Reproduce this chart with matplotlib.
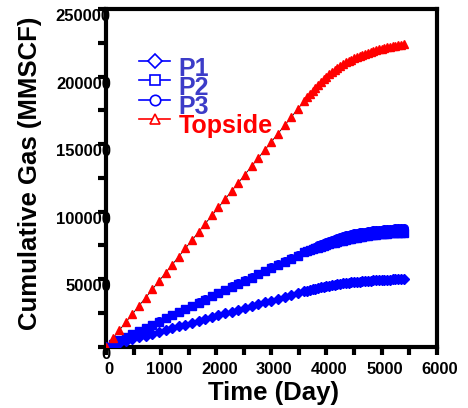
import matplotlib
matplotlib.use('Agg')
import matplotlib.pyplot as plt
import matplotlib.transforms as mtransforms
from matplotlib.ticker import MultipleLocator

plt.rcParams['font.family'] = ['Liberation Sans', 'DejaVu Sans']
plt.rcParams['font.weight'] = 'bold'

# sample times (days)
days = [0, 120, 240, 360, 480, 600, 720, 840, 960, 1080, 1200, 1320, 1440,
        1560, 1680, 1800, 1920, 2040, 2160, 2280, 2400, 2520, 2640, 2760,
        2880, 3000, 3120, 3240, 3360, 3480, 3600,
        3650, 3700, 3750, 3800, 3850, 3900, 3950, 4000, 4050, 4100, 4150,
        4200, 4250, 4300, 4350, 4400, 4450, 4500, 4550, 4600, 4650, 4700,
        4750, 4800, 4850, 4900, 4950, 5000, 5050, 5100, 5150, 5200, 5250,
        5300, 5350, 5400]

p1 = [0, 1370, 2740, 4100, 5470, 6840, 8210, 9580, 10940, 12310, 13680,
      15050, 16420, 17780, 19150, 20520, 21890, 23260, 24620, 25990, 27360,
      28730, 30100, 31460, 32830, 34200, 35570, 36940, 38300, 39670, 41040,
      41600, 42130, 42630, 43110, 43570, 44010, 44430, 44830, 45210, 45570,
      45910, 46230, 46540, 46830, 47100, 47360, 47610, 47840, 48050, 48250,
      48440, 48610, 48780, 48930, 49080, 49210, 49340, 49450, 49560, 49660,
      49750, 49840, 49930, 50010, 50080, 50150]

p2 = [0, 2330, 4660, 6980, 9310, 11640, 13970, 16300, 18620, 20950, 23280,
      25610, 27940, 30260, 32590, 34920, 37250, 39580, 41900, 44230, 46560,
      48890, 51220, 53540, 55870, 58200, 60530, 62860, 65180, 67510, 69840,
      70630, 71390, 72120, 72820, 73490, 74130, 74740, 75320, 75920, 76490,
      77030, 77540, 78020, 78570, 79090, 79580, 80040, 80470, 80870, 81250,
      81600, 81920, 82220, 82500, 82760, 83000, 83220, 83420, 83610, 83780,
      83930, 84080, 84210, 84340, 84450, 84560]

p3 = [0, 2350, 4700, 7040, 9390, 11740, 14090, 16440, 18780, 21130, 23480,
      25830, 28180, 30520, 32870, 35220, 37570, 39920, 42260, 44610, 46960,
      49310, 51660, 54000, 56350, 58700, 61050, 63400, 65740, 68090, 70440,
      70930, 71990, 73020, 74020, 74990, 75930, 76840, 77720, 78520, 79290,
      80030, 80740, 81420, 81970, 82490, 82980, 83440, 83870, 84270, 84650,
      85000, 85320, 85620, 85900, 86160, 86400, 86620, 86820, 87000, 87180,
      87330, 87480, 87610, 87740, 87850, 87960]

topside = [0, 6100, 12100, 18200, 24300, 30400, 36400, 42500, 48600, 54700,
           60700, 66800, 72900, 78900, 85000, 91100, 97200, 103200, 109300,
           115400, 121400, 127500, 133600, 139700, 145700, 151800, 157900,
           163900, 170000, 176100, 182200,
           184710, 187150, 189510, 191800, 194000, 196100, 198100, 200000,
           201800, 203500, 205100, 206600, 208000, 209300, 210550, 211700,
           212750, 213750, 214700, 215600, 216400, 217200, 217900, 218600,
           219200, 219800, 220350, 220900, 221350, 221800, 222250, 222650,
           223050, 223400, 223750, 224050]

labels = ['P1', 'P2', 'P3', 'Topside']
markers = ['D', 's', 'o', '^']
colors = ['#0000ff', '#0000ff', '#0000ff', '#ff0000']
text_colors = ['#3c3cc8', '#3c3cc8', '#3c3cc8', '#ff0000']
series = [p1, p2, p3, topside]

fig = plt.figure(figsize=(4.68, 4.08), dpi=100)
ax = fig.add_axes([0.2265, 0.1502, 0.7066, 0.8272])

for vals, m, c in zip(series, markers, colors):
    ax.plot(days, vals, color='k', lw=0.6, zorder=2)
    ax.plot(days, vals, ls='none', marker=m, ms=5.5, color=c, mec=c, zorder=3)

ax.set_xlim(0, 6000)
ax.set_ylim(0, 250000)
ax.xaxis.set_major_locator(MultipleLocator(1000))
ax.xaxis.set_minor_locator(MultipleLocator(500))
ax.yaxis.set_major_locator(MultipleLocator(50000))
ax.yaxis.set_minor_locator(MultipleLocator(25000))

for s in ax.spines.values():
    s.set_linewidth(3)
ax.tick_params(which='both', direction='out', length=6, width=3,
               labelsize=12)
ax.tick_params(axis='y', pad=-9.5)
ax.tick_params(axis='x', pad=5)
ax.tick_params(which='both', top=False, right=False)

off = mtransforms.ScaledTranslation(0, -6 / 100, fig.dpi_scale_trans)
for lab in ax.get_yticklabels():
    lab.set_transform(lab.get_transform() + off)
    lab.set_zorder(5)
xoff = mtransforms.ScaledTranslation(3 / 100, 0, fig.dpi_scale_trans)
for lab in ax.get_xticklabels():
    lab.set_transform(lab.get_transform() + xoff)

ax.set_xlabel('Time (Day)', fontsize=18.5, fontweight='bold')
ax.set_ylabel('Cumulative Gas (MMSCF)', fontsize=18.5, fontweight='bold')
ax.xaxis.label.set_va('center')
ax.yaxis.label.set_va('center')
ax.xaxis.set_label_coords(0.508, -0.137)
ax.yaxis.set_label_coords(-0.23, 0.515)

# hand-placed legend (axes fractions)
leg_y = [0.848, 0.791, 0.732, 0.676]
base_y = [0.802, 0.746, 0.689, 0.632]
for i in range(4):
    ax.plot([0.10, 0.195], [leg_y[i]] * 2, color=colors[i], lw=1.2,
            transform=ax.transAxes, clip_on=False)
    ax.plot([0.148], [leg_y[i]], marker=markers[i], ms=7.5, mfc='white',
            mec=colors[i], mew=1.2, transform=ax.transAxes, clip_on=False)
    ax.text(0.22, base_y[i], labels[i], color=text_colors[i], fontsize=18,
            fontweight='bold', transform=ax.transAxes, va='baseline',
            ha='left')

fig.savefig('out.png', dpi=100)
